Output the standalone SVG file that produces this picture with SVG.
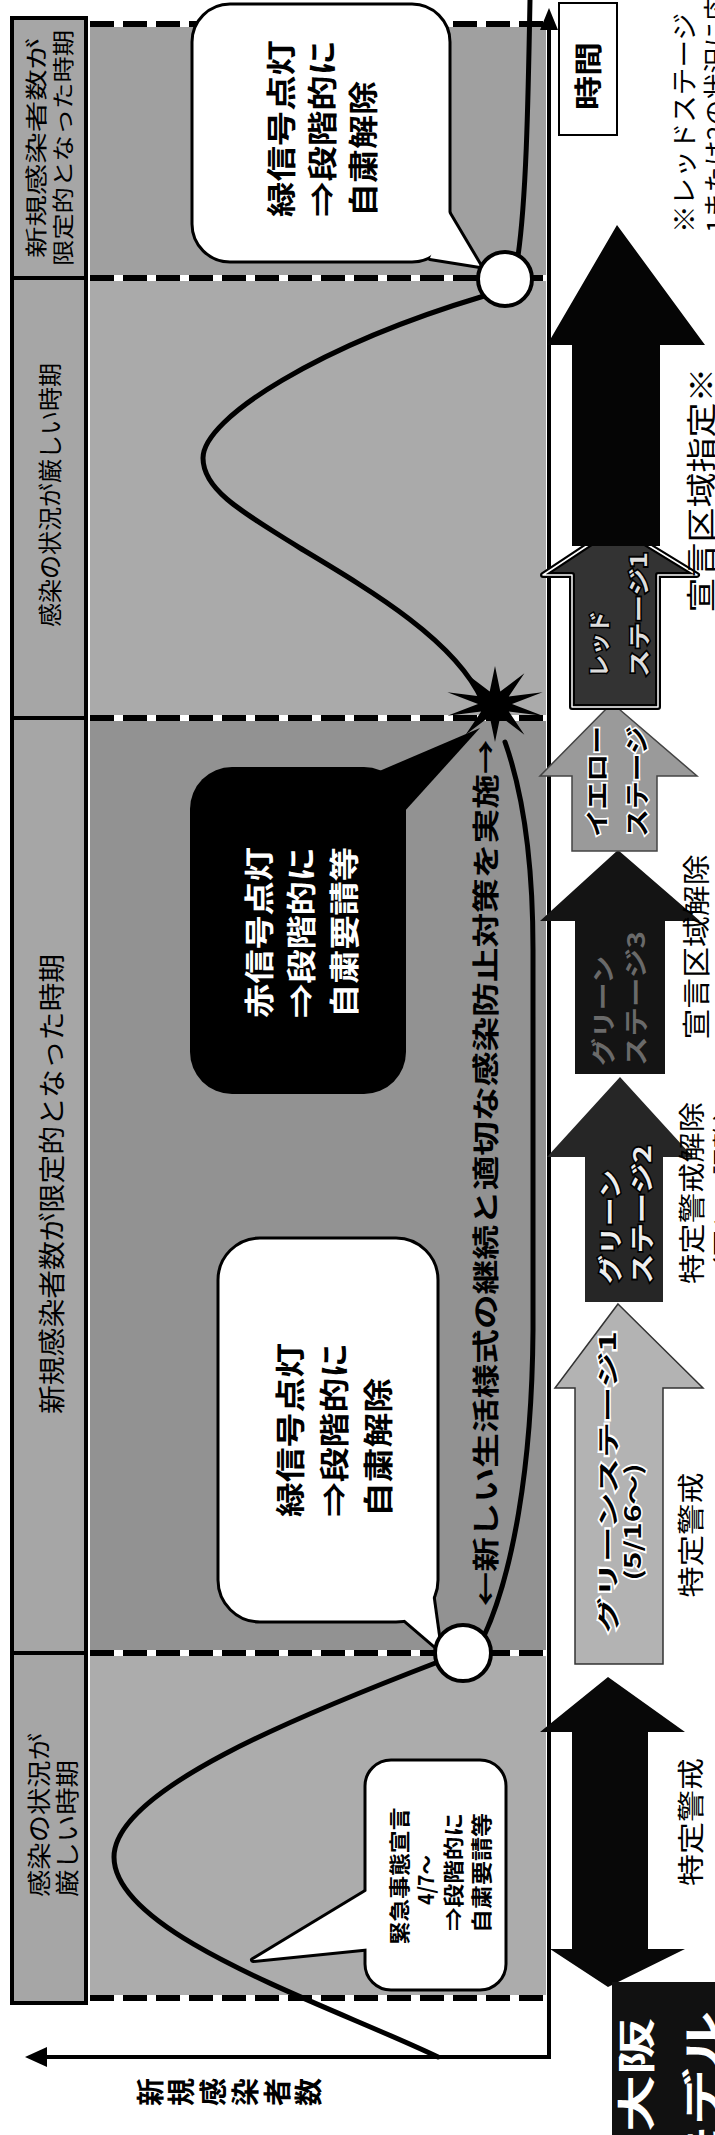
<svg xmlns="http://www.w3.org/2000/svg" width="715" height="2135" viewBox="0 0 715 2135">
<style>
text{font-family:"Noto Sans CJK JP","Noto Sans CJK SC",sans-serif;dominant-baseline:central;}
.b{font-weight:bold;}
.dbg{stroke:#fff;stroke-width:6;}
.dash{stroke:#000;stroke-width:6;stroke-dasharray:24 9;}
.curve{fill:none;stroke:#000;stroke-width:5;stroke-linecap:round;}
.lbl{fill:#a6a6a6;stroke:#000;stroke-width:4;}
.bub{fill:#fff;stroke:#000;stroke-width:3;}
.tail{fill:#fff;stroke:#000;stroke-width:6;stroke-linejoin:round;}
.ax{stroke:#000;stroke-width:4;fill:none;}
.wo{paint-order:stroke;stroke:#fff;stroke-width:3;}
.ko{paint-order:stroke;stroke:#000;stroke-width:3;}
</style>
<rect width="715" height="2135" fill="#fff"/>

<g id="period-labels">
<rect class="lbl" x="12" y="18" width="74" height="260"/>
<rect class="lbl" x="12" y="278" width="74" height="440"/>
<rect class="lbl" x="12" y="718" width="74" height="935"/>
<rect class="lbl" x="12" y="1653" width="74" height="350"/>
<text x="34" y="148" transform="rotate(-90 34 148)" text-anchor="middle" font-size="22" textLength="220" lengthAdjust="spacingAndGlyphs">新規感染者数が</text>
<text x="61" y="148" transform="rotate(-90 61 148)" text-anchor="middle" font-size="22" textLength="236" lengthAdjust="spacingAndGlyphs">限定的となった時期</text>
<text x="48" y="495" transform="rotate(-90 48 495)" text-anchor="middle" font-size="24" textLength="264" lengthAdjust="spacingAndGlyphs">感染の状況が厳しい時期</text>
<text x="50" y="1184" transform="rotate(-90 50 1184)" text-anchor="middle" font-size="27" textLength="460" lengthAdjust="spacingAndGlyphs">新規感染者数が限定的となった時期</text>
<text x="37" y="1897" transform="rotate(-90 37 1897)" font-size="24" textLength="164" lengthAdjust="spacingAndGlyphs">感染の状況が</text>
<text x="65" y="1897" transform="rotate(-90 65 1897)" font-size="24" textLength="137" lengthAdjust="spacingAndGlyphs">厳しい時期</text>
</g>

<g id="plot-area">
<rect x="90" y="24" width="456" height="254" fill="#a0a0a0"/>
<rect x="90" y="278" width="456" height="440" fill="#aaaaaa"/>
<rect x="90" y="718" width="456" height="935" fill="#929292"/>
<rect x="90" y="1653" width="456" height="345" fill="#acacac"/>
<line class="dbg" x1="90" y1="24" x2="546" y2="24"/>
<line class="dbg" x1="90" y1="278" x2="546" y2="278"/>
<line class="dbg" x1="90" y1="718" x2="546" y2="718"/>
<line class="dbg" x1="90" y1="1653" x2="546" y2="1653"/>
<line class="dbg" x1="90" y1="1998" x2="546" y2="1998"/>
<line class="dash" x1="90" y1="24" x2="546" y2="24"/>
<line class="dash" x1="90" y1="278" x2="546" y2="278"/>
<line class="dash" x1="90" y1="718" x2="546" y2="718"/>
<line class="dash" x1="90" y1="1653" x2="546" y2="1653"/>
<line class="dash" x1="90" y1="1998" x2="546" y2="1998"/>
</g>

<g id="connectors">
<path class="curve" d="M438,2057 C330,2005 114,1935 114,1857 C114,1790 300,1715 438,1662"/>
<path class="curve" d="M484,1636 C512,1575 532,1470 533,1330 L533,950 C533,860 522,790 505,742"/>
<path class="curve" d="M482,700 C455,640 370,590 300,548 C235,508 203,488 203,458 C203,418 320,345 484,296"/>
<path class="curve" d="M518,256 C526,200 528,110 530,0"/>
<line class="ax" x1="551" y1="2057" x2="42" y2="2057"/>
<polygon points="25,2057 47,2047 47,2067"/>
<line class="ax" x1="549" y1="2059" x2="549" y2="26"/>
<polygon points="549,8 540,30 558,30"/>
</g>

<g id="bubble-green-top">
<polygon class="tail" points="448,212 480,266 430,258"/>
<rect class="bub" x="192" y="4" width="258" height="258" rx="38"/>
<polygon points="448,212 480,266 430,258" fill="#fff"/>
<text class="b" x="279" y="217" transform="rotate(-90 279 217)" font-size="30" textLength="177" lengthAdjust="spacingAndGlyphs">緑信号点灯</text>
<text class="b" x="320" y="217" transform="rotate(-90 320 217)" font-size="30" textLength="177" lengthAdjust="spacingAndGlyphs">⇒段階的に</text>
<text class="b" x="361" y="217" transform="rotate(-90 361 217)" font-size="30" textLength="136" lengthAdjust="spacingAndGlyphs">自粛解除</text>
</g>

<g id="bubble-red">
<rect x="190" y="767" width="216" height="327" rx="42" fill="#000"/>
<polygon points="370,775 404,812 480,728" fill="#000"/>
<text class="b" x="257" y="1018" transform="rotate(-90 257 1018)" font-size="30" fill="#fff" textLength="171" lengthAdjust="spacingAndGlyphs">赤信号点灯</text>
<text class="b" x="299" y="1018" transform="rotate(-90 299 1018)" font-size="30" fill="#fff" textLength="171" lengthAdjust="spacingAndGlyphs">⇒段階的に</text>
<text class="b" x="342" y="1018" transform="rotate(-90 342 1018)" font-size="30" fill="#fff" textLength="171" lengthAdjust="spacingAndGlyphs">自粛要請等</text>
</g>

<g id="bubble-green-mid">
<polygon class="tail" points="398,1614 440,1650 432,1592"/>
<rect class="bub" x="218" y="1238" width="220" height="384" rx="42"/>
<polygon points="398,1614 440,1650 432,1592" fill="#fff"/>
<text class="b" x="288" y="1517" transform="rotate(-90 288 1517)" font-size="30" textLength="174" lengthAdjust="spacingAndGlyphs">緑信号点灯</text>
<text class="b" x="332" y="1517" transform="rotate(-90 332 1517)" font-size="30" textLength="174" lengthAdjust="spacingAndGlyphs">⇒段階的に</text>
<text class="b" x="376" y="1517" transform="rotate(-90 376 1517)" font-size="30" textLength="139" lengthAdjust="spacingAndGlyphs">自粛解除</text>
</g>

<g id="bubble-emergency">
<polygon class="tail" points="372,1888 253,1960 372,1948"/>
<rect class="bub" x="365" y="1760" width="141" height="230" rx="26"/>
<polygon points="372,1888 253,1960 372,1948" fill="#fff"/>
<text class="b" x="398" y="1876" transform="rotate(-90 398 1876)" text-anchor="middle" font-size="21" textLength="137" lengthAdjust="spacingAndGlyphs">緊急事態宣言</text>
<text class="b" x="425" y="1880" transform="rotate(-90 425 1880)" text-anchor="middle" font-size="21" textLength="50" lengthAdjust="spacingAndGlyphs">4/7〜</text>
<text class="b" x="452" y="1872" transform="rotate(-90 452 1872)" text-anchor="middle" font-size="21" textLength="118" lengthAdjust="spacingAndGlyphs">⇒段階的に</text>
<text class="b" x="480" y="1873" transform="rotate(-90 480 1873)" text-anchor="middle" font-size="21" textLength="120" lengthAdjust="spacingAndGlyphs">自粛要請等</text>
</g>

<g id="signal-markers">
<circle cx="463" cy="1653" r="28" fill="#fff" stroke="#000" stroke-width="4"/>
<circle cx="505" cy="279" r="27" fill="#fff" stroke="#000" stroke-width="4"/>
<polygon points="495,666 500.3,691.6 524.4,673.3 508.8,696.4 542.6,692.3 512,704 542.6,715.7 508.8,711.6 524.4,734.7 500.3,716.4 495,742 489.7,716.4 465.6,734.7 481.2,711.6 447.4,715.7 478,704 447.4,692.3 481.2,696.4 465.6,673.3 489.7,691.6" fill="#000"/>
</g>

<g id="new-lifestyle">
<text class="b" x="484" y="1173" transform="rotate(-90 484 1173)" text-anchor="middle" font-size="27" textLength="867" lengthAdjust="spacingAndGlyphs">←新しい生活様式の継続と適切な感染防止対策を実施→</text>
</g>

<g id="axis-labels">
<rect x="559" y="3" width="58" height="132" fill="#fff" stroke="#000" stroke-width="2"/>
<text class="b" x="587" y="76" transform="rotate(-90 587 76)" text-anchor="middle" font-size="28" textLength="68" lengthAdjust="spacingAndGlyphs">時間</text>
<g class="b" font-size="28">
<text x="149" y="2092" transform="rotate(-90 149 2092)" text-anchor="middle">新</text>
<text x="180" y="2092" transform="rotate(-90 180 2092)" text-anchor="middle">規</text>
<text x="212" y="2092" transform="rotate(-90 212 2092)" text-anchor="middle">感</text>
<text x="244" y="2092" transform="rotate(-90 244 2092)" text-anchor="middle">染</text>
<text x="276" y="2092" transform="rotate(-90 276 2092)" text-anchor="middle">者</text>
<text x="307" y="2092" transform="rotate(-90 307 2092)" text-anchor="middle">数</text>
</g>
</g>

<g id="stage-tokutei-1">
<polygon points="608,1677 685,1732 648,1732 648,1949 685,1949 608,1987 550,1949 572,1949 572,1732 540,1732" fill="#080808"/>
<text x="689" y="1822" transform="rotate(-90 689 1822)" text-anchor="middle" font-size="27" textLength="128" lengthAdjust="spacingAndGlyphs">特定警戒</text>
</g>

<g id="stage-green1">
<polygon points="618,1304 703,1388 663,1388 663,1664 575,1664 575,1388 555,1388" fill="#b3b3b3" stroke="#333" stroke-width="1.5"/>
<text class="b wo" x="606" y="1633" transform="rotate(-90 606 1633)" font-size="22" textLength="302" lengthAdjust="spacingAndGlyphs">グリーンステージ1</text>
<text class="b wo" x="631" y="1522" transform="rotate(-90 631 1522)" text-anchor="middle" font-size="22" textLength="117" lengthAdjust="spacingAndGlyphs">(5/16〜)</text>
<text x="689" y="1535" transform="rotate(-90 689 1535)" text-anchor="middle" font-size="27" textLength="125" lengthAdjust="spacingAndGlyphs">特定警戒</text>
</g>

<g id="stage-green2">
<polygon points="620,1077 693,1157 663,1157 663,1302 585,1302 585,1157 547,1157" fill="#262626"/>
<text class="b ko" x="608" y="1284" transform="rotate(-90 608 1284)" font-size="24" fill="#eee" textLength="114" lengthAdjust="spacingAndGlyphs">グリーン</text>
<text class="b ko" x="640" y="1284" transform="rotate(-90 640 1284)" font-size="24" fill="#eee" textLength="139" lengthAdjust="spacingAndGlyphs">ステージ2</text>
<text x="690" y="1193" transform="rotate(-90 690 1193)" text-anchor="middle" font-size="27" textLength="182" lengthAdjust="spacingAndGlyphs">特定警戒解除</text>
<text x="724" y="1284" transform="rotate(-90 724 1284)" font-size="27" textLength="190" lengthAdjust="spacingAndGlyphs">（国との調整）</text>
</g>

<g id="stage-green3">
<polygon points="618,850 700,921 665,921 665,1074 575,1074 575,921 540,921" fill="#141414"/>
<text class="b" x="601" y="1066" transform="rotate(-90 601 1066)" font-size="24" fill="#6a6a6a" textLength="110" lengthAdjust="spacingAndGlyphs">グリーン</text>
<text class="b" x="634" y="1066" transform="rotate(-90 634 1066)" font-size="24" fill="#6a6a6a" textLength="135" lengthAdjust="spacingAndGlyphs">ステージ3</text>
<text x="695" y="947" transform="rotate(-90 695 947)" text-anchor="middle" font-size="28" textLength="185" lengthAdjust="spacingAndGlyphs">宣言区域解除</text>
</g>

<g id="stage-yellow">
<polygon points="612,703 697,776 657,776 657,851 572,851 572,776 540,776" fill="#9a9a9a" stroke="#444" stroke-width="1.5"/>
<text class="b wo" x="595" y="837" transform="rotate(-90 595 837)" font-size="24" textLength="111" lengthAdjust="spacingAndGlyphs">イエロー</text>
<text class="b wo" x="635" y="837" transform="rotate(-90 635 837)" font-size="24" textLength="111" lengthAdjust="spacingAndGlyphs">ステージ</text>
</g>

<g id="stage-red1">
<polygon points="617,526 697,575 658,575 658,707 572,707 572,575 543,575" fill="#333" stroke="#000" stroke-width="6" stroke-linejoin="round"/>
<polygon points="617,526 697,575 658,575 658,707 572,707 572,575 543,575" fill="none" stroke="#fff" stroke-width="1.5" stroke-linejoin="round"/>
<text class="b ko" x="597" y="677" transform="rotate(-90 597 677)" font-size="22" fill="#ddd" textLength="66" lengthAdjust="spacingAndGlyphs">レッド</text>
<text class="b ko" x="637" y="677" transform="rotate(-90 637 677)" font-size="22" fill="#ddd" textLength="125" lengthAdjust="spacingAndGlyphs">ステージ1</text>
</g>

<g id="stage-declaration">
<polygon points="617,225 705,345 660,345 660,546 572,546 572,345 547,345" fill="#050505"/>
<text x="699" y="490" transform="rotate(-90 699 490)" text-anchor="middle" font-size="30" textLength="245" lengthAdjust="spacingAndGlyphs">宣言区域指定※</text>
</g>

<g id="note">
<text x="682" y="233" transform="rotate(-90 682 233)" font-size="26" textLength="220" lengthAdjust="spacingAndGlyphs">※レッドステージ</text>
<text x="714" y="233" transform="rotate(-90 714 233)" font-size="26" textLength="290" lengthAdjust="spacingAndGlyphs">1または2の状況に応じて</text>
</g>

<g id="title">
<rect x="612" y="1982" width="110" height="160" fill="#111"/>
<text class="b" x="633" y="2018" transform="rotate(-90 633 2018)" text-anchor="end" font-size="38" fill="#fff" textLength="114" lengthAdjust="spacingAndGlyphs">大阪</text>
<text class="b" x="700" y="2011" transform="rotate(-90 700 2011)" text-anchor="end" font-size="40" fill="#fff" textLength="171" lengthAdjust="spacingAndGlyphs">モデル</text>
</g>
</svg>
